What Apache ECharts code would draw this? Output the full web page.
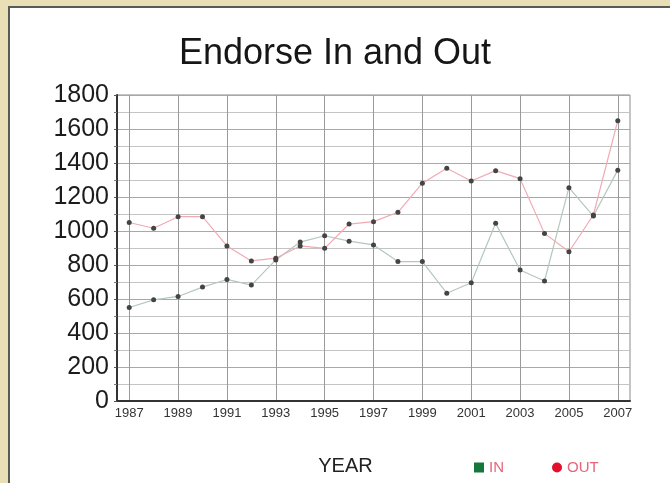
<!DOCTYPE html>
<html lang="en">
<head>
    <meta charset="UTF-8">
    <title>Endorse In and Out</title>
    <script src="https://cdn.jsdelivr.net/npm/echarts@6/dist/echarts.min.js"></script>
    <style>
        body {
            margin: 0;
            background: #e9dfb6;
        }
        #panel {
            position: absolute;
            left: 8px;
            top: 6px;
            width: 662px;
            height: 477px;
            background: #fff;
            border-top: 2px solid #5a5a55;
            border-left: 2px solid #5a5a55;
        }
        #line {
            position: absolute;
            left: 0;
            top: 0;
            width: 670px;
            height: 483px;
        }
    </style>
</head>
<body>
    <div id="panel"></div>
    <div id="line"></div>

    <script>
        // data
        var years = [1987, 1988, 1989, 1990, 1991, 1992, 1993, 1994, 1995, 1996, 1997,
                     1998, 1999, 2000, 2001, 2002, 2003, 2004, 2005, 2006, 2007];
        var inValues = [550, 595, 615, 670, 715, 682, 830, 935, 972, 940, 918,
                        820, 820, 634, 696, 1045, 771, 706, 1255, 1088, 1358];
        var outValues = [1050, 1016, 1084, 1084, 912, 824, 840, 912, 898, 1041, 1055,
                         1110, 1281, 1369, 1294, 1355, 1308, 986, 878, 1094, 1649];
        var yearLabels = [1987, 1989, 1991, 1993, 1995, 1997, 1999, 2001, 2003, 2005, 2007];

        var chart = echarts.init(document.getElementById('line'));

        function pairs(vals) {
            return years.map(function (y, i) { return [y, vals[i]]; });
        }

        var font = '"Liberation Sans", Arial, sans-serif';

        var option = {
            backgroundColor: 'transparent',
            textStyle: { fontFamily: font },
            title: {
                text: 'Endorse In and Out',
                left: 'center',
                top: 31,
                textStyle: { fontSize: 36, fontWeight: 'normal', color: '#161616', fontFamily: font }
            },
            legend: {
                left: 469,
                top: 455,
                itemGap: 48,
                itemWidth: 10,
                itemHeight: 10,
                textStyle: { fontSize: 15, color: '#e8647a', fontFamily: font },
                data: [
                    { name: 'IN', icon: 'rect', itemStyle: { color: '#17773b' } },
                    { name: 'OUT', icon: 'circle', itemStyle: { color: '#e2102c' } }
                ]
            },
            grid: {
                left: 117,
                right: 40,
                top: 95,
                bottom: 82,
                show: true,
                borderColor: '#8a8a8a',
                borderWidth: 1
            },
            xAxis: {
                type: 'value',
                min: 1986.5,
                max: 2007.5,
                name: 'YEAR',
                nameLocation: 'middle',
                nameGap: 55,
                nameTextStyle: { fontSize: 20, color: '#222', padding: [0, 56, 0, 0] },
                axisLine: { lineStyle: { color: '#333', width: 2 } },
                axisTick: { show: false, customValues: yearLabels },
                axisLabel: {
                    customValues: yearLabels,
                    formatter: function (v) { return String(v); },
                    fontSize: 13,
                    color: '#333',
                    margin: 6
                },
                splitLine: { show: true, lineStyle: { color: '#9a9a9a', width: 1 } }
            },
            yAxis: {
                type: 'value',
                min: 0,
                max: 1800,
                interval: 200,
                axisLine: { show: true, lineStyle: { color: '#333', width: 2 } },
                axisTick: { show: true, length: 3, lineStyle: { color: '#555' } },
                minorTick: { show: true, splitNumber: 2, length: 3, lineStyle: { color: '#777' } },
                axisLabel: {
                    fontSize: 25,
                    color: '#1c1c1c',
                    margin: 8,
                    formatter: function (v) { return String(v); }
                },
                splitLine: { show: true, lineStyle: { color: '#a8a8a8', width: 1 } },
                minorSplitLine: { show: true, lineStyle: { color: '#c4c4c4', width: 1 } }
            },
            series: [
                {
                    name: 'IN',
                    type: 'line',
                    data: pairs(inValues),
                    symbol: 'circle',
                    symbolSize: 5,
                    itemStyle: { color: '#444' },
                    lineStyle: { color: '#b4c8bc', width: 1.2 }
                },
                {
                    name: 'OUT',
                    type: 'line',
                    data: pairs(outValues),
                    symbol: 'circle',
                    symbolSize: 5,
                    itemStyle: { color: '#444' },
                    lineStyle: { color: '#f0aab4', width: 1.2 }
                }
            ]
        };

        chart.setOption(option);
    </script>
</body>
</html>
